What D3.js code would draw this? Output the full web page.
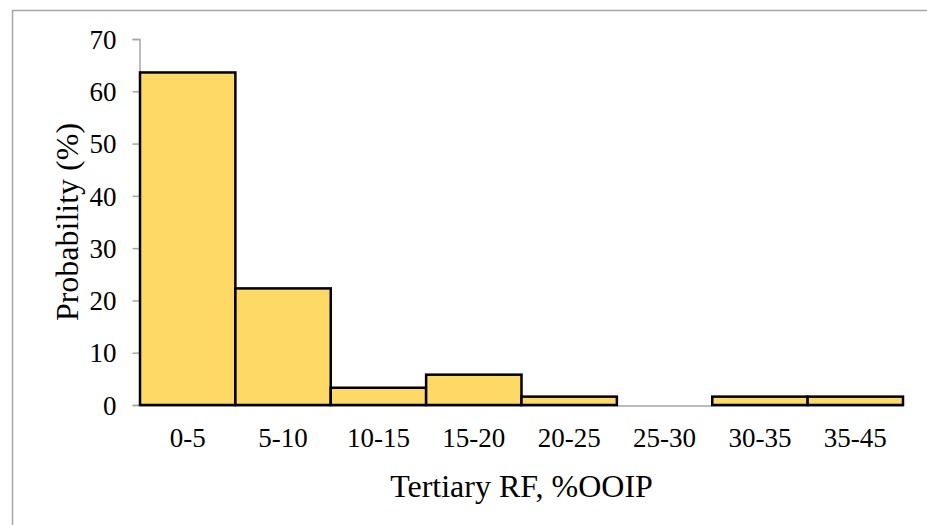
<!DOCTYPE html>
<html><head><meta charset="utf-8">
<script src="https://cdn.jsdelivr.net/npm/d3@7"></script>
<style>html,body{margin:0;padding:0;background:#fff;}</style>
</head><body>
<svg id="chart" width="927" height="525"></svg>
<script>
const categories = ["0-5","5-10","10-15","15-20","20-25","25-30","30-35","35-45"];
const values = [63.6, 22.3, 3.3, 5.8, 1.6, 0, 1.6, 1.6];
const yTicks = [0,10,20,30,40,50,60,70];
const xTitle = "Tertiary RF, %OOIP";
const yTitle = "Probability (%)";

(function(){
const svg = d3.select("#chart");
const font = "'Liberation Serif','Times New Roman',serif";
svg.append("rect").attr("x",12.5).attr("y",10.5).attr("width",940).attr("height",540)
  .attr("fill","none").attr("stroke","#a6a6a6").attr("stroke-width",1.5);

const mL=140, mR=903, mT=39, mB=405;
const x = d3.scaleBand().domain(categories).range([mL,mR]).padding(0);
const y = d3.scaleLinear().domain([0,70]).range([mB,mT]);

const ya = svg.append("g").attr("transform",`translate(${mL-0.5},0)`)
  .call(d3.axisLeft(y).tickValues(yTicks).tickSize(7).tickPadding(16));
ya.select(".domain").attr("stroke","#a6a6a6").attr("stroke-width",1.5);
ya.selectAll(".tick line").attr("stroke","#a6a6a6").attr("stroke-width",1.5);
ya.selectAll(".tick text").attr("font-family",font).attr("font-size",27).attr("fill","#000").attr("dy","0.34em");

const xa = svg.append("g").attr("transform",`translate(0,${mB+0.5})`)
  .call(d3.axisBottom(x).tickSize(0).tickPadding(22));
xa.select(".domain").attr("stroke","#a6a6a6").attr("stroke-width",1.5);
xa.selectAll(".tick text").attr("font-family",font).attr("font-size",27).attr("fill","#000");

svg.append("g").selectAll("rect").data(categories.map((c,i)=>({c,v:values[i]})).filter(d=>d.v>0))
  .join("rect")
  .attr("x",d=>x(d.c)).attr("width",x.bandwidth())
  .attr("y",d=>y(d.v)).attr("height",d=>y(0)-y(d.v))
  .attr("fill","#FFD966").attr("stroke","#000").attr("stroke-width",2.5);

svg.append("text").attr("x",(mL+mR)/2).attr("y",497).attr("text-anchor","middle")
  .attr("font-family",font).attr("font-size",32).attr("fill","#000").text(xTitle);
svg.append("text").attr("transform",`translate(78,${(mT+mB)/2}) rotate(-90)`).attr("text-anchor","middle")
  .attr("font-family",font).attr("font-size",32).attr("fill","#000").text(yTitle);
})();
</script>
</body></html>
